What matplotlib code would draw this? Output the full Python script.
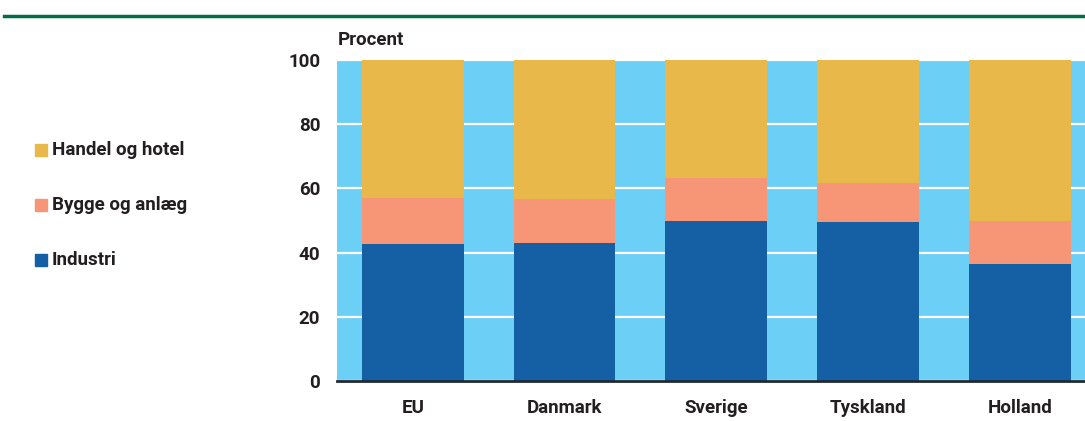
import numpy as np
import matplotlib.pyplot as plt
from matplotlib.lines import Line2D
from matplotlib.patches import Rectangle

plt.rcParams['font.family'] = ['Roboto', 'DejaVu Sans']

countries = ['EU', 'Danmark', 'Sverige', 'Tyskland', 'Holland']
industri = [42.8, 43.0, 49.7, 49.4, 36.3]
bygge = [14.2, 13.7, 13.6, 12.2, 13.5]
handel = [43.0, 43.3, 36.7, 38.4, 50.2]
series_names = ['Industri', 'Bygge og anlæg', 'Handel og hotel']
colors = ['#155fa5', '#f79676', '#e8b84a']

fs = 13.5

fig = plt.figure(figsize=(10.85, 4.21), dpi=100)
ax = fig.add_axes([337 / 1085, 40 / 421, 1 - 337 / 1085, 321 / 421])
ax.set_facecolor('#6ccff6')

x = np.arange(len(countries))
w = 0.67
bottom = np.zeros(len(countries))
for vals, c in zip([industri, bygge, handel], colors):
    ax.bar(x, vals, w, bottom=bottom, color=c, zorder=3, linewidth=0)
    bottom += np.array(vals)

ax.set_xlim(-0.5, 4.43)
ax.set_ylim(0, 100)
ax.set_yticks([0, 20, 40, 60, 80, 100])
ax.yaxis.grid(True, color='white', linewidth=1.6, zorder=1)
ax.set_axisbelow(True)
for s in ['top', 'right', 'left']:
    ax.spines[s].set_visible(False)
ax.spines['bottom'].set_color('#1f2a36')
ax.spines['bottom'].set_linewidth(2)
ax.spines['bottom'].set_zorder(5)
ax.tick_params(length=0, labelsize=fs, colors='#231f20')
ax.tick_params(axis='y', pad=12)
ax.tick_params(axis='x', pad=13)
ax.set_xticks(x)
ax.set_xticklabels(countries)
for lab in ax.get_xticklabels() + ax.get_yticklabels():
    lab.set_fontweight('bold')

fig.text(338 / 1085, 1 - 40 / 421, 'Procent', fontsize=fs, fontweight='bold',
         color='#231f20', va='center', ha='left')

# legend on the left
leg_y = [150, 205, 260]
for name, c, yy in zip(series_names[::-1], colors[::-1], leg_y):
    fig.patches.append(Rectangle((35 / 1085, 1 - (yy + 6) / 421), 12 / 1085, 12 / 421,
                                 transform=fig.transFigure, color=c))
    fig.text(52 / 1085, 1 - yy / 421, name, fontsize=fs, fontweight='bold',
             color='#231f20', va='center', ha='left')

# green rule at the top
fig.add_artist(Line2D([4 / 1085, 1], [1 - 16 / 421] * 2, color='#006f45', linewidth=2.5))

fig.savefig('out.png', dpi=100)
